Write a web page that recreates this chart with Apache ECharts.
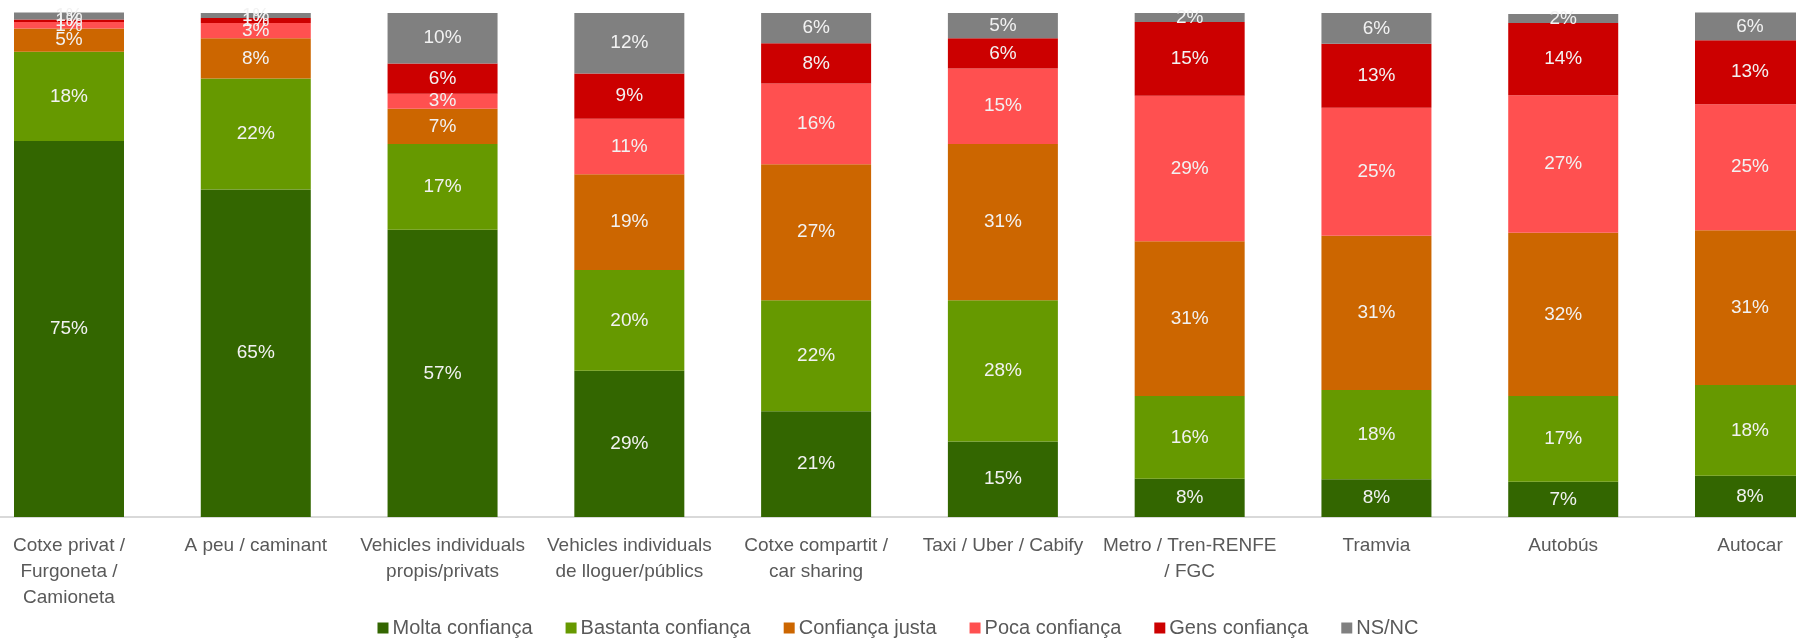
<!DOCTYPE html>
<html><head><meta charset="utf-8">
<script src="https://cdn.jsdelivr.net/npm/echarts@6/dist/echarts.min.js"></script>
<style>html,body{margin:0;padding:0;background:#fff}#c{width:1796px;height:639px}</style>
</head><body><div id="c"></div>
<script>
const categories = [
  "Cotxe privat /\nFurgoneta /\nCamioneta",
  "A peu / caminant",
  "Vehicles individuals\npropis/privats",
  "Vehicles individuals\nde lloguer/públics",
  "Cotxe compartit /\ncar sharing",
  "Taxi / Uber / Cabify",
  "Metro / Tren-RENFE\n/ FGC",
  "Tramvia",
  "Autobús",
  "Autocar"
];
const seriesNames = ["Molta confiança","Bastanta confiança","Confiança justa","Poca confiança","Gens confiança","NS/NC"];
const colors = ["#336600","#669900","#CC6600","#FF5050","#CC0000","#808080"];
const molta    = [74.6, 65, 57, 29, 21, 15, 7.6, 7.5, 7.0, 8.2];
const bastanta = [17.7, 22, 17, 20, 22, 28, 16.4, 17.7, 17.0, 18.0];
const justa    = [4.6, 8, 7, 19, 27, 31, 30.7, 30.6, 32.4, 30.7];
const poca     = [1.3, 3, 3, 11, 16, 15, 28.9, 25.4, 27.3, 25.0];
const gens     = [0.5, 1, 6, 9, 8, 6, 14.6, 12.7, 14.3, 12.7];
const nsnc     = [1.4, 1, 10, 12, 6, 5, 1.8, 6.1, 1.8, 5.5];
const values = [molta, bastanta, justa, poca, gens, nsnc];

const FONT = "'Liberation Sans',Arial,sans-serif";
const chart = echarts.init(document.getElementById('c'));
chart.setOption({
  animation: false,
  grid: [
    {left: 69, right: 46, top: 13, bottom: 122, containLabel: false},
    {left: 0, right: 0, top: 13, bottom: 122, containLabel: false}
  ],
  legend: {
    bottom: -4, left: 'center',
    itemWidth: 11, itemHeight: 11, itemGap: 33, icon: 'rect',
    textStyle: {color: '#595959', fontSize: 20, fontFamily: FONT, padding: [0,0,0,-1]},
    data: seriesNames
  },
  xAxis: [{
    type: 'category', data: categories, boundaryGap: false, gridIndex: 0,
    axisLine: {show: false},
    axisTick: {show: false},
    axisLabel: {color: '#595959', fontSize: 19, fontFamily: FONT, lineHeight: 26, margin: 16, interval: 0}
  }, {
    type: 'value', gridIndex: 1, min: 0, max: 1,
    axisLine: {show: true, lineStyle: {color: '#D9D9D9', width: 2}},
    axisTick: {show: false}, axisLabel: {show: false}, splitLine: {show: false}
  }],
  yAxis: [
    {type: 'value', min: 0, max: 100, show: false, splitLine: {show: false}, gridIndex: 0},
    {type: 'value', min: 0, max: 1, show: false, splitLine: {show: false}, gridIndex: 1}
  ],
  series: seriesNames.map((n, i) => ({
    name: n, type: 'bar', stack: 'total', barWidth: 110, clip: false,
    xAxisIndex: 0, yAxisIndex: 0,
    itemStyle: {color: colors[i]},
    label: {
      show: true, position: 'inside', color: '#F2F2F2', fontSize: 19, fontFamily: FONT,
      formatter: p => Math.round(p.value) + '%'
    },
    data: values[i]
  }))
});
</script></body></html>
